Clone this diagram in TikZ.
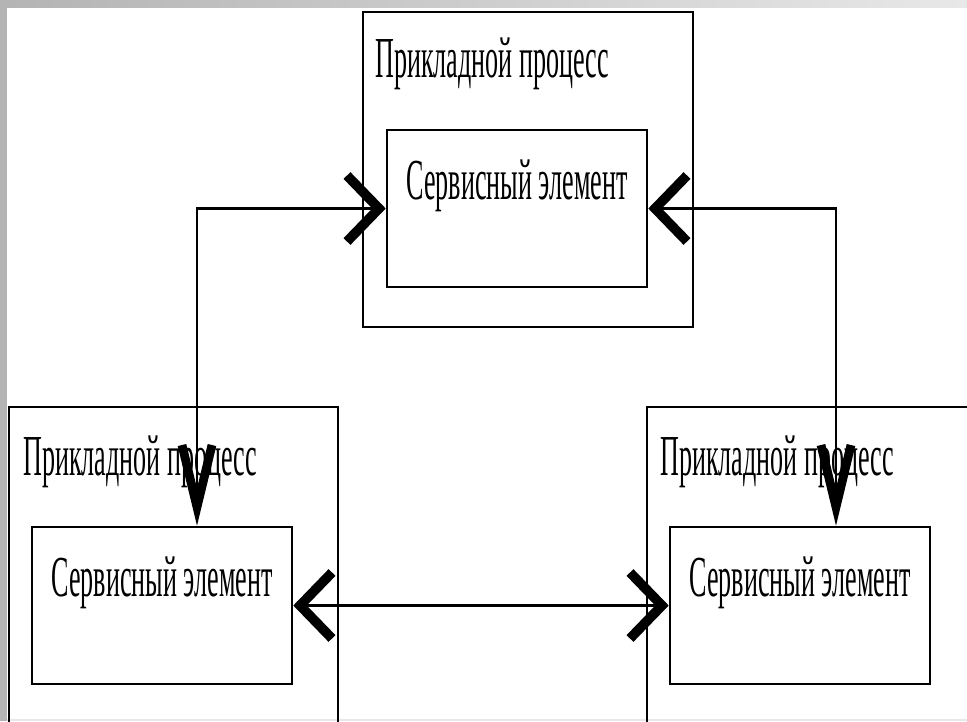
\documentclass[tikz,border=0pt]{standalone}
\usepackage{fontspec}
\usepackage{tikz}
\usetikzlibrary{arrows.meta}
\newfontfamily\narrowserif{Liberation Serif}[FakeStretch=0.45]
\newcommand{\labelfont}{\narrowserif\fontsize{33}{40}\selectfont}
\definecolor{slidegray}{HTML}{B4B4B4}
\definecolor{slidelight}{HTML}{E8E8E8}
\tikzset{
  procbox/.style={draw, line width=1.5pt, inner sep=0pt},
  elembox/.style={draw, line width=1.5pt, inner sep=0pt, minimum width=5.2cm,
    text height=1.39cm, text depth=1.75cm, font=\labelfont},
  titletext/.style={inner sep=0pt, anchor=base west, font=\labelfont},
  link/.style={line width=1.4pt},
  hbarb/.tip={Straight Barb[length=6.4mm, width=13.2mm, line width=5.5pt]},
  vbarb/.tip={Straight Barb[length=12.4mm, width=6mm, line width=5pt]},
}

\begin{document}
\begin{tikzpicture}[x=0.02cm, y=-0.02cm]
  \useasboundingbox (0,0) rectangle (967,721);
  \clip (0,0) rectangle (967,721);

  % slide frame
  \fill[slidegray] (0,0) rectangle (7,721);
  \shade[left color=slidegray, right color=slidelight] (7,0) rectangle (967,7);
  \fill[slidelight] (7,719) rectangle (967,721);

  % upper process
  \node[procbox, minimum width=6.6cm, minimum height=6.3cm] (top-proc) at (528,169.5) {};
  \node[titletext] (top-title) at (375,77) {Прикладной процесс};
  \node[elembox] (top-se) at (517,208.5) {Сервисный элемент};

  % lower left process
  \node[procbox, minimum width=6.58cm, minimum height=7.06cm] (left-proc) at (173.5,583.5) {};
  \node[titletext] (left-title) at (23,475) {Прикладной процесс};
  \node[elembox] (left-se) at (162,605.5) {Сервисный элемент};

  % lower right process
  \node[procbox, minimum width=7.06cm, minimum height=7.06cm] (right-proc) at (823.5,583.5) {};
  \node[titletext] (right-title) at (660,475) {Прикладной процесс};
  \node[elembox] (right-se) at (800,605.5) {Сервисный элемент};

  % links
  \draw[link, {vbarb}-{hbarb}] ([xshift=0.7cm]left-se.north) |- (top-se.west);
  \draw[link, {vbarb}-{hbarb}] ([xshift=0.72cm]right-se.north) |- (top-se.east);
  \draw[link, {hbarb}-{hbarb}] (left-se.east) -- (right-se.west);
\end{tikzpicture}
\end{document}
